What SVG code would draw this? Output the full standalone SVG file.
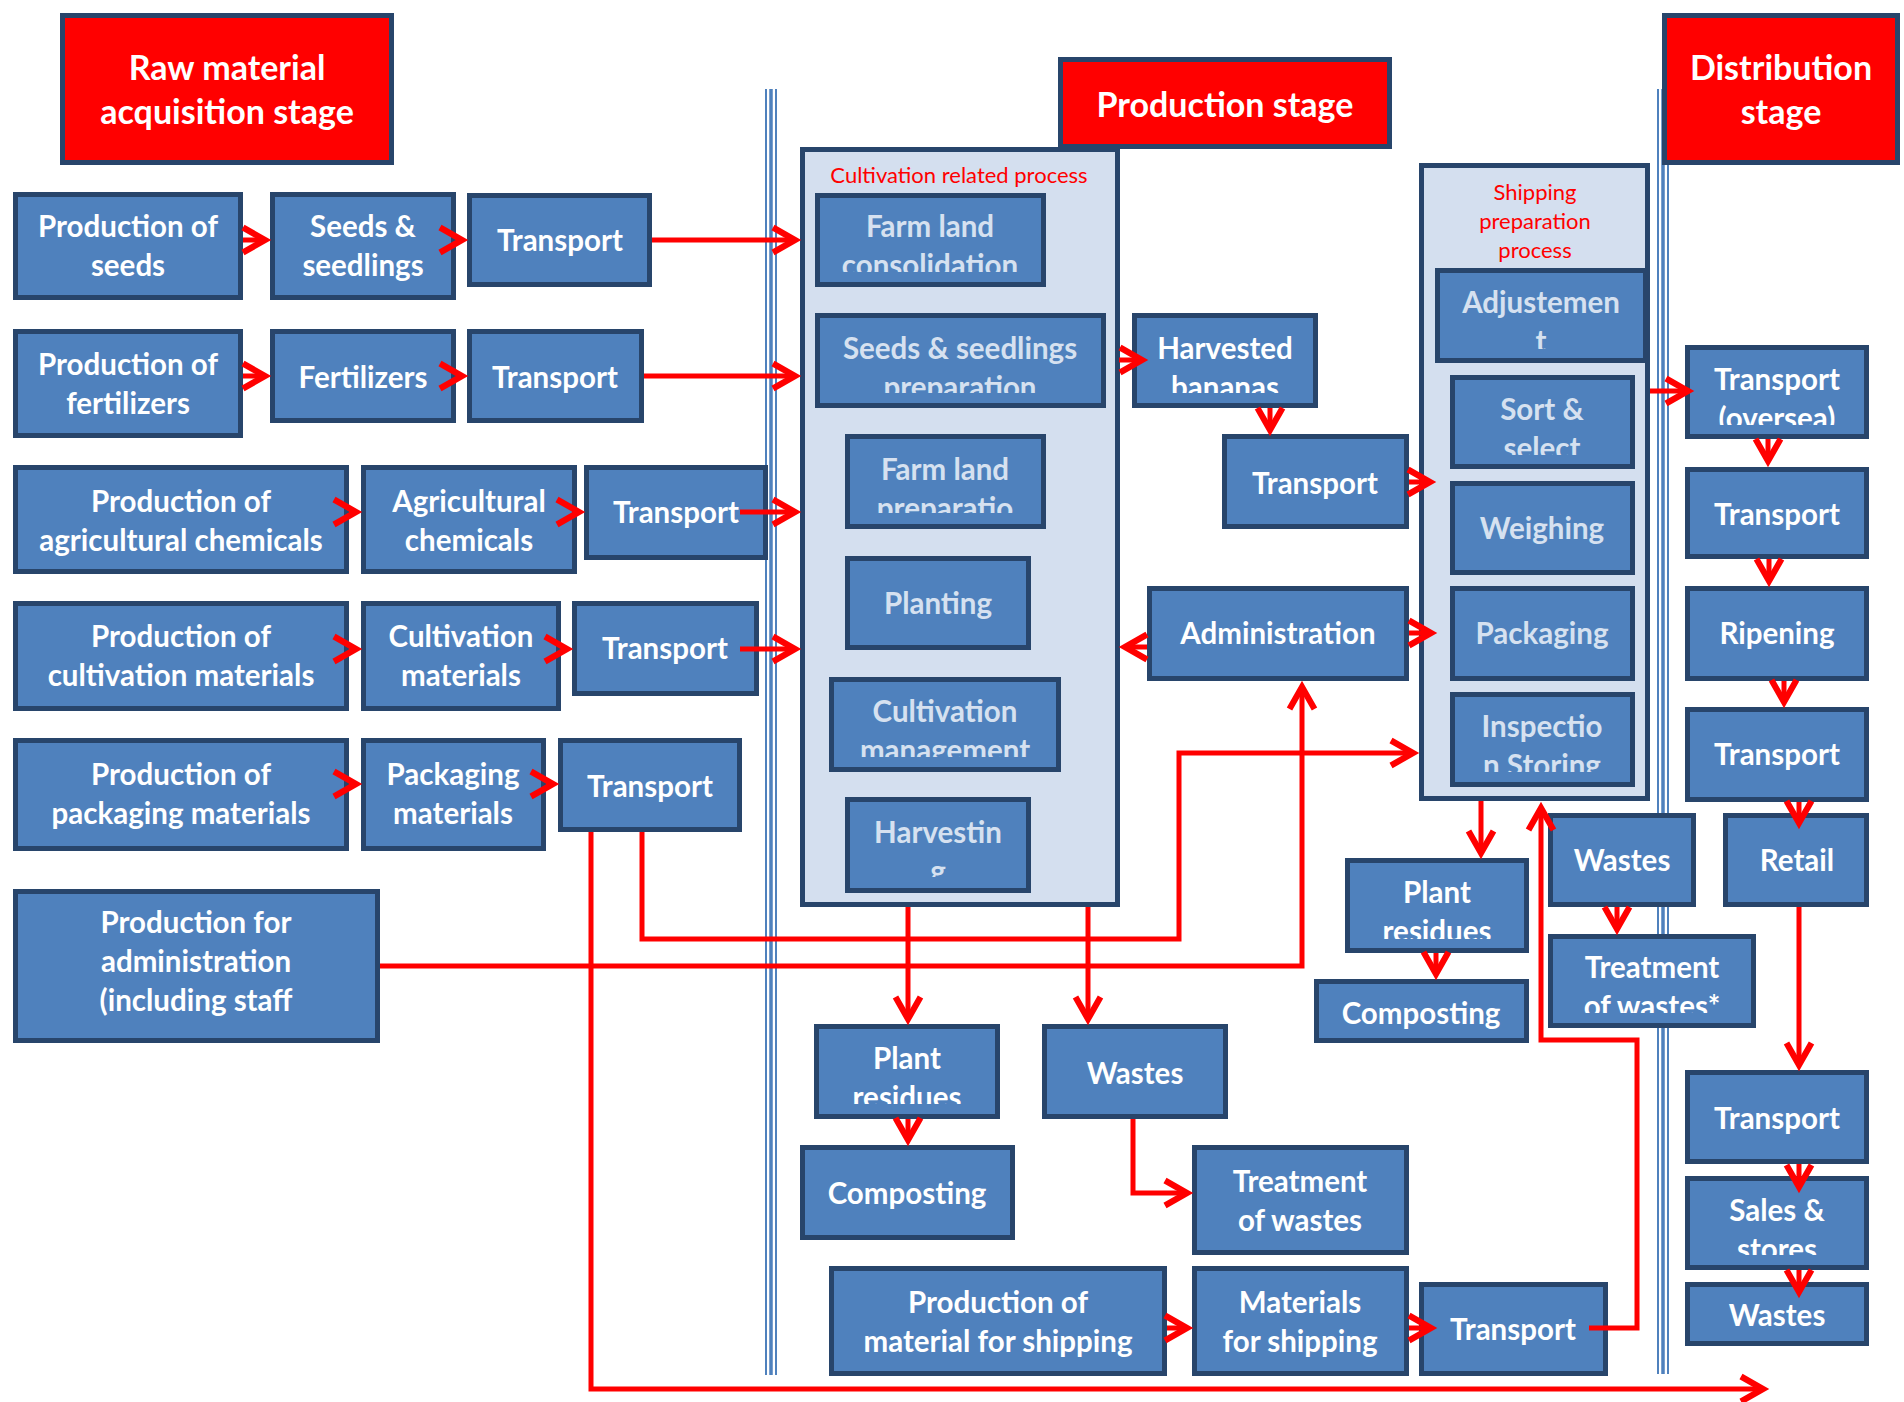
<svg xmlns="http://www.w3.org/2000/svg" width="1904" height="1402" viewBox="0 0 1904 1402">
<style>
  .node rect { fill:#4F81BD; stroke:#28456B; stroke-width:5; }
  text { font-family: Lato, "Liberation Sans", sans-serif; text-anchor: middle; }
  .node text { font-weight:700; font-size:29.5px; fill:#FFFFFF; }
  .node.inner text { fill:#D6E1F0; }
  .stage rect { fill:#FF0000; stroke:#28456B; stroke-width:5; }
  .stage text { font-weight:700; font-size:34px; fill:#FFFFFF; }
  .frame rect { fill:#D4DFEF; stroke:#28456B; stroke-width:5; }
  .frame text { font-size:22px; fill:#FF0000; }
  .divider line { stroke:#4F81BD; }
  .conn { fill:none; stroke:#FF0000; stroke-width:5; stroke-linejoin:miter; stroke-linecap:butt; }
  .arr { marker-end:url(#ah); }
</style>
<defs>
  <marker id="ah" viewBox="-32 -18 42 36" refX="0" refY="0" markerWidth="42" markerHeight="36" markerUnits="userSpaceOnUse" orient="auto">
    <path d="M-22,-12.5 L0,0 L-22,12.5" fill="none" stroke="#FF0000" stroke-width="6.2" stroke-linejoin="miter" stroke-miterlimit="10"/>
  </marker>
  <clipPath id="c17"><rect x="815" y="193" width="231" height="79"/></clipPath>
  <clipPath id="c18"><rect x="815" y="313" width="291" height="80"/></clipPath>
  <clipPath id="c19"><rect x="845" y="434" width="201" height="79"/></clipPath>
  <clipPath id="c21"><rect x="829" y="677" width="232" height="80"/></clipPath>
  <clipPath id="c22"><rect x="845" y="797" width="186" height="80"/></clipPath>
  <clipPath id="c23"><rect x="1132" y="313" width="186" height="80"/></clipPath>
  <clipPath id="c26"><rect x="1435" y="268" width="213" height="81"/></clipPath>
  <clipPath id="c27"><rect x="1450" y="375" width="185" height="80"/></clipPath>
  <clipPath id="c30"><rect x="1450" y="692" width="185" height="80"/></clipPath>
  <clipPath id="c31"><rect x="1345" y="858" width="184" height="81"/></clipPath>
  <clipPath id="c34"><rect x="1548" y="934" width="208" height="79"/></clipPath>
  <clipPath id="c35"><rect x="814" y="1024" width="186" height="80"/></clipPath>
  <clipPath id="c42"><rect x="1685" y="345" width="184" height="80"/></clipPath>
  <clipPath id="c48"><rect x="1685" y="1176" width="184" height="79"/></clipPath>
</defs>

<rect width="1904" height="1402" fill="#FFFFFF"/>

<!-- stage dividers -->
<g class="divider">
  <line x1="766" y1="89" x2="766" y2="1375" stroke-width="2"/>
  <line x1="771" y1="89" x2="771" y2="1375" stroke-width="3.5"/>
  <line x1="776" y1="89" x2="776" y2="1375" stroke-width="2"/>
  <line x1="1658" y1="89" x2="1658" y2="1374" stroke-width="2"/>
  <line x1="1663" y1="89" x2="1663" y2="1374" stroke-width="3.5"/>
  <line x1="1668" y1="89" x2="1668" y2="1374" stroke-width="2"/>
</g>

<!-- process groups -->
<g id="cultivation-process" class="frame">
  <rect x="802.5" y="149.5" width="315" height="755"/>
  <text x="959" y="183">Cultivation related process</text>
</g>
<g id="shipping-process" class="frame">
  <rect x="1421.5" y="165.5" width="226" height="633"/>
  <text x="1535" y="200">Shipping</text>
  <text x="1535" y="229">preparation</text>
  <text x="1535" y="258">process</text>
</g>

<!-- stage titles -->
<g id="stage-raw" class="stage">
  <rect x="62.5" y="15.5" width="329" height="147"/>
  <text x="227" y="80">Raw material</text>
  <text x="227" y="124">acquisition stage</text>
</g>
<g id="stage-production" class="stage">
  <rect x="1060.5" y="59.5" width="329" height="87"/>
  <text x="1225" y="117">Production stage</text>
</g>
<g id="stage-distribution" class="stage">
  <rect x="1664.5" y="15.5" width="233" height="147"/>
  <text x="1781" y="80">Distribution</text>
  <text x="1781" y="124">stage</text>
</g>

<g id="nodes">
  <!-- raw material acquisition -->
  <g id="prod-seeds" class="node"><rect x="15.5" y="194.5" width="225" height="103"/><text x="128" y="237">Production of</text><text x="128" y="276">seeds</text></g>
  <g id="seeds-seedlings" class="node"><rect x="272.5" y="194.5" width="181" height="103"/><text x="363" y="237">Seeds &amp;</text><text x="363" y="276">seedlings</text></g>
  <g id="transport-seeds" class="node"><rect x="469.5" y="195.5" width="180" height="89"/><text x="560" y="251">Transport</text></g>

  <g id="prod-fertilizers" class="node"><rect x="15.5" y="331.5" width="225" height="104"/><text x="128" y="375">Production of</text><text x="128" y="414">fertilizers</text></g>
  <g id="fertilizers" class="node"><rect x="272.5" y="331.5" width="181" height="89"/><text x="363" y="388">Fertilizers</text></g>
  <g id="transport-fertilizers" class="node"><rect x="469.5" y="331.5" width="172" height="89"/><text x="555" y="388">Transport</text></g>

  <g id="prod-agrochem" class="node"><rect x="15.5" y="467.5" width="331" height="104"/><text x="181" y="512">Production of</text><text x="181" y="551">agricultural chemicals</text></g>
  <g id="agrochem" class="node"><rect x="363.5" y="467.5" width="211" height="104"/><text x="469" y="512">Agricultural</text><text x="469" y="551">chemicals</text></g>
  <g id="transport-agrochem" class="node"><rect x="586.5" y="467.5" width="179" height="90"/><text x="676" y="523">Transport</text></g>

  <g id="prod-cultmat" class="node"><rect x="15.5" y="603.5" width="331" height="105"/><text x="181" y="647">Production of</text><text x="181" y="686">cultivation materials</text></g>
  <g id="cultmat" class="node"><rect x="363.5" y="603.5" width="195" height="105"/><text x="461" y="647">Cultivation</text><text x="461" y="686">materials</text></g>
  <g id="transport-cultmat" class="node"><rect x="574.5" y="603.5" width="182" height="90"/><text x="665" y="659">Transport</text></g>

  <g id="prod-packmat" class="node"><rect x="15.5" y="740.5" width="331" height="108"/><text x="181" y="785">Production of</text><text x="181" y="824">packaging materials</text></g>
  <g id="packmat" class="node"><rect x="363.5" y="740.5" width="180" height="108"/><text x="453" y="785">Packaging</text><text x="453" y="824">materials</text></g>
  <g id="transport-packmat" class="node"><rect x="560.5" y="740.5" width="179" height="89"/><text x="650" y="797">Transport</text></g>

  <g id="prod-admin" class="node"><rect x="15.5" y="891.5" width="362" height="149"/><text x="196" y="933">Production for</text><text x="196" y="972">administration</text><text x="196" y="1011">(including staff</text></g>

  <!-- cultivation related process -->
  <g id="farm-consolidation" class="node inner"><rect x="817.5" y="195.5" width="226" height="89"/><g clip-path="url(#c17)"><text x="930" y="237">Farm land</text><text x="930" y="276">consolidation</text></g></g>
  <g id="seedling-prep" class="node inner"><rect x="817.5" y="315.5" width="286" height="90"/><g clip-path="url(#c18)"><text x="960" y="359">Seeds &amp; seedlings</text><text x="960" y="398">preparation</text></g></g>
  <g id="farm-prep" class="node inner"><rect x="847.5" y="436.5" width="196" height="90"/><g clip-path="url(#c19)"><text x="945" y="480">Farm land</text><text x="945" y="519">preparatio</text></g></g>
  <g id="planting" class="node inner"><rect x="847.5" y="558.5" width="181" height="89"/><text x="938" y="614">Planting</text></g>
  <g id="cult-management" class="node inner"><rect x="831.5" y="679.5" width="227" height="90"/><g clip-path="url(#c21)"><text x="945" y="722">Cultivation</text><text x="945" y="761">management</text></g></g>
  <g id="harvesting" class="node inner"><rect x="847.5" y="799.5" width="181" height="91"/><g clip-path="url(#c22)"><text x="938" y="843">Harvestin</text><text x="938" y="882">g</text></g></g>

  <!-- production stage -->
  <g id="harvested" class="node"><rect x="1134.5" y="315.5" width="181" height="90"/><g clip-path="url(#c23)"><text x="1225" y="359">Harvested</text><text x="1225" y="398">bananas</text></g></g>
  <g id="transport-harvest" class="node"><rect x="1224.5" y="436.5" width="182" height="90"/><text x="1315" y="494">Transport</text></g>
  <g id="administration" class="node"><rect x="1149.5" y="588.5" width="257" height="90"/><text x="1278" y="644">Administration</text></g>

  <!-- shipping preparation process -->
  <g id="adjustment" class="node inner"><rect x="1437.5" y="270.5" width="208" height="90"/><g clip-path="url(#c26)"><text x="1541" y="313">Adjustemen</text><text x="1541" y="352">t</text></g></g>
  <g id="sort-select" class="node inner"><rect x="1452.5" y="377.5" width="180" height="89"/><g clip-path="url(#c27)"><text x="1542" y="420">Sort &amp;</text><text x="1542" y="459">select</text></g></g>
  <g id="weighing" class="node inner"><rect x="1452.5" y="483.5" width="180" height="89"/><text x="1542" y="539">Weighing</text></g>
  <g id="packaging" class="node inner"><rect x="1452.5" y="588.5" width="180" height="90"/><text x="1542" y="644">Packaging</text></g>
  <g id="inspection" class="node inner"><rect x="1452.5" y="694.5" width="180" height="90"/><g clip-path="url(#c30)"><text x="1542" y="737">Inspectio</text><text x="1542" y="776">n Storing</text></g></g>

  <!-- residues and wastes -->
  <g id="residues-ship" class="node"><rect x="1347.5" y="860.5" width="179" height="90"/><g clip-path="url(#c31)"><text x="1437" y="903">Plant</text><text x="1437" y="942">residues</text></g></g>
  <g id="composting-ship" class="node"><rect x="1316.5" y="981.5" width="210" height="59"/><text x="1421" y="1024">Composting</text></g>
  <g id="wastes-ship" class="node"><rect x="1550.5" y="815.5" width="143" height="89"/><text x="1622" y="871">Wastes</text></g>
  <g id="treatment-ship" class="node"><rect x="1550.5" y="936.5" width="203" height="89"/><g clip-path="url(#c34)"><text x="1652" y="978">Treatment</text><text x="1652" y="1017">of wastes*</text></g></g>

  <g id="residues-cult" class="node"><rect x="816.5" y="1026.5" width="181" height="90"/><g clip-path="url(#c35)"><text x="907" y="1069">Plant</text><text x="907" y="1108">residues</text></g></g>
  <g id="wastes-cult" class="node"><rect x="1044.5" y="1026.5" width="181" height="90"/><text x="1135" y="1084">Wastes</text></g>
  <g id="composting-cult" class="node"><rect x="802.5" y="1147.5" width="210" height="90"/><text x="907" y="1204">Composting</text></g>
  <g id="treatment-cult" class="node"><rect x="1194.5" y="1147.5" width="212" height="105"/><text x="1300" y="1192">Treatment</text><text x="1300" y="1231">of wastes</text></g>

  <!-- shipping materials -->
  <g id="prod-shipmat" class="node"><rect x="831.5" y="1268.5" width="333" height="105"/><text x="998" y="1313">Production of</text><text x="998" y="1352">material for shipping</text></g>
  <g id="shipmat" class="node"><rect x="1194.5" y="1268.5" width="212" height="105"/><text x="1300" y="1313">Materials</text><text x="1300" y="1352">for shipping</text></g>
  <g id="transport-shipmat" class="node"><rect x="1421.5" y="1284.5" width="184" height="89"/><text x="1513" y="1340">Transport</text></g>

  <!-- distribution stage -->
  <g id="transport-oversea" class="node"><rect x="1687.5" y="347.5" width="179" height="89"/><g clip-path="url(#c42)"><text x="1777" y="390">Transport</text><text x="1777" y="429">(oversea)</text></g></g>
  <g id="transport-d1" class="node"><rect x="1687.5" y="469.5" width="179" height="87"/><text x="1777" y="525">Transport</text></g>
  <g id="ripening" class="node"><rect x="1687.5" y="588.5" width="179" height="90"/><text x="1777" y="644">Ripening</text></g>
  <g id="transport-d2" class="node"><rect x="1687.5" y="709.5" width="179" height="90"/><text x="1777" y="765">Transport</text></g>
  <g id="retail" class="node"><rect x="1725.5" y="815.5" width="141" height="89"/><text x="1797" y="871">Retail</text></g>
  <g id="transport-d3" class="node"><rect x="1687.5" y="1072.5" width="179" height="89"/><text x="1777" y="1129">Transport</text></g>
  <g id="sales-stores" class="node"><rect x="1687.5" y="1178.5" width="179" height="89"/><g clip-path="url(#c48)"><text x="1777" y="1221">Sales &amp;</text><text x="1777" y="1260">stores</text></g></g>
  <g id="wastes-dist" class="node"><rect x="1687.5" y="1284.5" width="179" height="59"/><text x="1777" y="1326">Wastes</text></g>
</g>

<g id="connectors">
  <!-- raw material rows -->
  <path class="conn arr" d="M243,240 H265"/>
  <path class="conn arr" d="M456,240 H462"/>
  <path class="conn arr" d="M652,240 H795"/>
  <path class="conn arr" d="M243,376 H265"/>
  <path class="conn arr" d="M456,376 H462"/>
  <path class="conn arr" d="M644,376 H795"/>
  <path class="conn arr" d="M349,512 H356"/>
  <path class="conn arr" d="M577,512 H579"/>
  <path class="conn arr" d="M740,512 H795"/>
  <path class="conn arr" d="M349,649 H356"/>
  <path class="conn arr" d="M561,649 H567"/>
  <path class="conn arr" d="M740,649 H795"/>
  <path class="conn arr" d="M349,784 H356"/>
  <path class="conn arr" d="M546,784 H553"/>

  <!-- packaging material transport -->
  <path class="conn arr" d="M591,832 V1389 H1763"/>
  <path class="conn arr" d="M642,832 V939 H1179 V753 H1413"/>
  <!-- administration supplies -->
  <path class="conn arr" d="M380,966 H1302 V687"/>

  <!-- production stage -->
  <path class="conn arr" d="M1119,360 H1142"/>
  <path class="conn arr" d="M1270,408 V430"/>
  <path class="conn arr" d="M1409,482 H1430"/>
  <path class="conn arr" d="M1147,647 H1125"/>
  <path class="conn arr" d="M1409,633 H1431"/>
  <path class="conn arr" d="M908,907 V1019"/>
  <path class="conn arr" d="M1088,907 V1019"/>
  <path class="conn arr" d="M908,1119 V1140"/>
  <path class="conn arr" d="M1133,1119 V1193 H1187"/>
  <path class="conn arr" d="M1481,801 V853"/>
  <path class="conn arr" d="M1436,953 V974"/>
  <path class="conn arr" d="M1617,907 V929"/>
  <path class="conn arr" d="M1167,1328 H1187"/>
  <path class="conn arr" d="M1409,1328 H1431"/>
  <path class="conn arr" d="M1589,1328 H1637 V1040 H1541 V808"/>

  <!-- distribution stage -->
  <path class="conn arr" d="M1650,391 H1688"/>
  <path class="conn arr" d="M1768,439 V461"/>
  <path class="conn arr" d="M1769,559 V581"/>
  <path class="conn arr" d="M1784,681 V702"/>
  <path class="conn arr" d="M1799,802 V823"/>
  <path class="conn arr" d="M1799,907 V1065"/>
  <path class="conn arr" d="M1799,1164 V1187"/>
  <path class="conn arr" d="M1799,1270 V1292"/>
</g>
</svg>
